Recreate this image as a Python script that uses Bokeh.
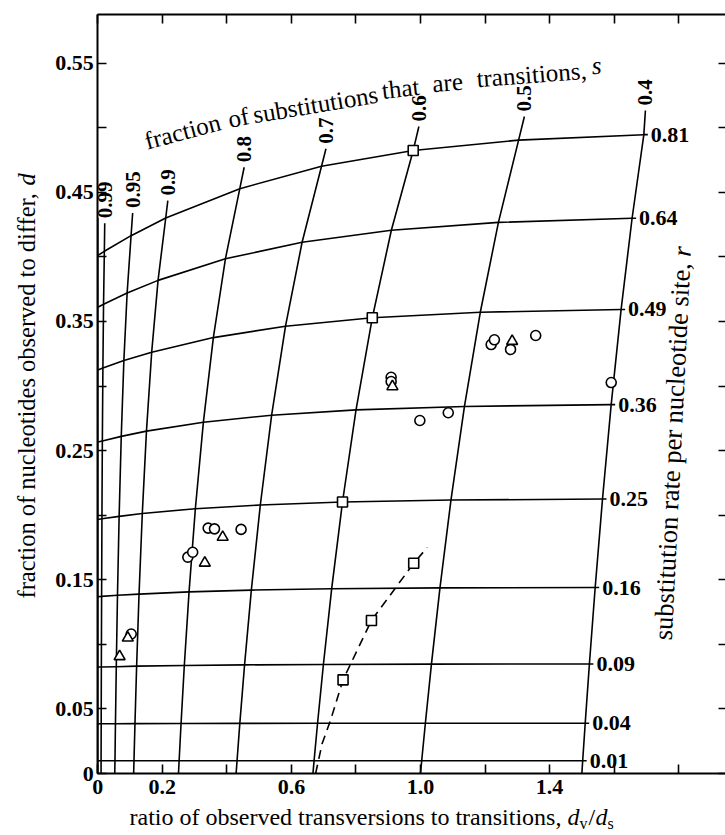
import math
from bokeh.plotting import figure
from bokeh.models import LinearAxis, FixedTicker, Label, Range1d, CustomJSTickFormatter
from bokeh.core.properties import value
from bokeh.embed import file_html
from bokeh.resources import INLINE

# ---------------- values ----------------
# substitution rate per nucleotide site, r (labels of the near-horizontal curves)
r_names = ["0.01", "0.04", "0.09", "0.16", "0.25", "0.36", "0.49", "0.64", "0.81"]
# fraction of substitutions that are transitions, s (labels of the steep curves)
s_names = ["1", "0.99", "0.95", "0.9", "0.8", "0.7", "0.6", "0.5", "0.4"]

# ratio dv/ds where each s curve leaves d = 0
s_start_ratio = [0.0, 0.0101, 0.0526, 0.1111, 0.2500, 0.4286, 0.6667, 1.0000, 1.5000]

# ratio dv/ds at the crossing with each r curve (one list per s curve)
ratio_s100 = [0.0, 0.0, 0.0, 0.0, 0.0, 0.0, 0.0, 0.0, 0.0]
ratio_s099 = [0.0102, 0.0105, 0.0110, 0.0118, 0.0128, 0.0141, 0.0158, 0.0178, 0.0203]
ratio_s095 = [0.0532, 0.0547, 0.0573, 0.0610, 0.0661, 0.0727, 0.0808, 0.0909, 0.1031]
ratio_s090 = [0.1121, 0.1152, 0.1203, 0.1278, 0.1379, 0.1508, 0.1670, 0.1867, 0.2105]
ratio_s080 = [0.2520, 0.2580, 0.2681, 0.2828, 0.3023, 0.3272, 0.3581, 0.3955, 0.4400]
ratio_s070 = [0.4315, 0.4401, 0.4548, 0.4758, 0.5036, 0.5387, 0.5817, 0.6331, 0.6933]
ratio_s060 = [0.6702, 0.6810, 0.6991, 0.7247, 0.7583, 0.8002, 0.8506, 0.9097, 0.9774]
ratio_s050 = [1.0037, 1.0151, 1.0339, 1.0603, 1.0944, 1.1362, 1.1853, 1.2415, 1.3040]
ratio_s040 = [1.5026, 1.5104, 1.5234, 1.5413, 1.5640, 1.5909, 1.6217, 1.6557, 1.6921]

# fraction observed to differ, d, at the same crossings
diff_s100 = [0.0099, 0.0384, 0.0824, 0.1369, 0.1967, 0.2566, 0.3124, 0.3610, 0.4011]
diff_s099 = [0.0099, 0.0385, 0.0824, 0.1371, 0.1972, 0.2575, 0.3139, 0.3633, 0.4043]
diff_s095 = [0.0099, 0.0385, 0.0827, 0.1380, 0.1991, 0.2610, 0.3197, 0.3720, 0.4164]
diff_s090 = [0.0099, 0.0386, 0.0831, 0.1389, 0.2013, 0.2651, 0.3262, 0.3818, 0.4301]
diff_s080 = [0.0099, 0.0387, 0.0836, 0.1406, 0.2050, 0.2720, 0.3375, 0.3985, 0.4528]
diff_s070 = [0.0099, 0.0388, 0.0841, 0.1420, 0.2079, 0.2774, 0.3463, 0.4113, 0.4701]
diff_s060 = [0.0099, 0.0389, 0.0844, 0.1430, 0.2102, 0.2815, 0.3528, 0.4206, 0.4824]
diff_s050 = [0.0099, 0.0389, 0.0847, 0.1437, 0.2117, 0.2842, 0.3571, 0.4267, 0.4904]
diff_s040 = [0.0099, 0.0389, 0.0848, 0.1440, 0.2125, 0.2856, 0.3593, 0.4299, 0.4946]

# upper ends of the s curves
s_top_ratio = [0.0, 0.0215, 0.108, 0.217, 0.4536, 0.707, 0.995, 1.322, 1.697]
s_top_diff = [0.430, 0.426, 0.434, 0.4436, 0.4694, 0.4837, 0.5009, 0.5087, 0.5133]

# observed points
circle_ratio = [0.1035, 0.279, 0.294, 0.342, 0.3616, 0.444, 0.909, 0.909, 0.998, 1.086,
                1.219, 1.229, 1.279, 1.357, 1.591]
circle_diff = [0.108, 0.1675, 0.1713, 0.190, 0.1894, 0.189, 0.3068, 0.3035, 0.2733, 0.2793,
               0.3321, 0.3358, 0.3283, 0.3391, 0.3027]
triangle_ratio = [0.0676, 0.093, 0.3316, 0.387, 0.913, 1.284]
triangle_diff = [0.0906, 0.105, 0.163, 0.183, 0.2996, 0.3347]

# dashed curve and its squares
dashed_ratio = [0.675, 0.695, 0.721, 0.760, 0.848, 0.979, 1.021]
dashed_diff = [0.0, 0.023, 0.041, 0.0725, 0.1185, 0.1628, 0.175]
dashed_square_idx = [3, 4, 5]
s060_square_idx = [4, 6, 8]   # squares on the s = 0.6 curve at r = 0.25, 0.49, 0.81

x_ticks = [0, 0.2, 0.4, 0.6, 0.8, 1.0, 1.2, 1.4, 1.6, 1.8]
x_tick_labels = ["0", "0.2", "", "0.6", "", "1.0", "", "1.4", "", ""]
y_ticks = [0, 0.05, 0.1, 0.15, 0.2, 0.25, 0.3, 0.35, 0.4, 0.45, 0.5, 0.55]
y_tick_labels = ["0", "0.05", "", "0.15", "", "0.25", "", "0.35", "", "0.45", "", "0.55"]

ratio_grid = [ratio_s100, ratio_s099, ratio_s095, ratio_s090, ratio_s080,
              ratio_s070, ratio_s060, ratio_s050, ratio_s040]
diff_grid = [diff_s100, diff_s099, diff_s095, diff_s090, diff_s080,
             diff_s070, diff_s060, diff_s050, diff_s040]

# ---------------- layout (page pixels of the reference) ----------------
W, H = 725, 835
X0_PX, X_SCALE = 97.3, 322.7     # page px of ratio 0, px per unit
Y0_PX, Y_SCALE = 773.0, 1291.6   # page px of d = 0, px per unit


def dx(px):
    return (px - X0_PX) / X_SCALE


def dy(py):
    return (Y0_PX - py) / Y_SCALE


X_END = dx(727)     # right border of the chart box (just outside the page)
Y_TOP = dy(14)      # top border of the chart box

SERIF = "Liberation Serif"

p = figure(width=W, height=H,
           x_range=Range1d(dx(0), dx(W)), y_range=Range1d(dy(H), dy(0)),
           min_border=0, output_backend="svg", toolbar_location=None)
p.outline_line_color = None
p.grid.visible = False
p.background_fill_color = "white"
p.border_fill_color = "white"


def style_axis(ax, ticks, labels, location, bounds, show_labels=True, show_line=True):
    ax.fixed_location = location
    ax.bounds = bounds
    ax.ticker = FixedTicker(ticks=ticks, minor_ticks=[])
    if show_labels:
        ax.formatter = CustomJSTickFormatter(args=dict(labels=labels),
                                             code="return labels[index];")
    else:
        ax.formatter = CustomJSTickFormatter(code="return '';")
    ax.major_tick_in = 9
    ax.major_tick_out = 0
    ax.minor_tick_in = 0
    ax.minor_tick_out = 0
    ax.major_tick_line_width = 1.6
    ax.major_tick_line_color = "black"
    ax.axis_line_width = 2
    ax.axis_line_color = "black" if show_line else None
    ax.major_label_text_font = SERIF
    ax.major_label_text_font_style = "bold"
    ax.major_label_text_color = "black"
    ax.major_label_text_font_size = "22px"


style_axis(p.xaxis[0], x_ticks, x_tick_labels, 0.0, (0.0, X_END))
p.xaxis[0].major_label_standoff = 6
style_axis(p.yaxis[0], y_ticks, y_tick_labels, 0.0, (0.0, Y_TOP))
p.yaxis[0].major_label_standoff = 4

top_axis = LinearAxis()
style_axis(top_axis, x_ticks, x_tick_labels, Y_TOP, (0.0, X_END), show_labels=False)
p.add_layout(top_axis, "above")

right_axis = LinearAxis()
style_axis(right_axis, y_ticks, y_tick_labels, X_END, (0.0, Y_TOP), show_labels=False)
p.add_layout(right_axis, "right")

LW = 1.6

# s curves
for i in range(len(s_names)):
    xs = [s_start_ratio[i]] + ratio_grid[i] + [s_top_ratio[i]]
    ys = [0.0] + diff_grid[i] + [s_top_diff[i]]
    p.line(xs, ys, line_color="black", line_width=LW)

# r curves (extend a little beyond the s = 0.4 curve)
for j in range(len(r_names)):
    xs = [ratio_grid[i][j] for i in range(len(s_names))]
    ys = [diff_grid[i][j] for i in range(len(s_names))]
    xs.append(xs[-1] + 4 / X_SCALE)
    ys.append(ys[-1])
    p.line(xs, ys, line_color="black", line_width=LW)

# dashed curve
p.line(dashed_ratio, dashed_diff, line_color="black", line_width=LW, line_dash="9 6")

# labels of the s curves
p.text(x=s_top_ratio[1:], y=s_top_diff[1:], text=s_names[1:], angle=math.pi / 2,
       y_offset=-5, text_align="left", text_baseline="middle",
       text_font=value(SERIF), text_font_style="bold", text_font_size="21px",
       text_color="black")

# labels of the r curves
p.text(x=ratio_s040, y=diff_s040, text=r_names, x_offset=7,
       text_align="left", text_baseline="middle",
       text_font=value(SERIF), text_font_style="bold", text_font_size="22px",
       text_color="black")

# squares
sq_x = [ratio_s060[k] for k in s060_square_idx] + [dashed_ratio[k] for k in dashed_square_idx]
sq_y = [diff_s060[k] for k in s060_square_idx] + [dashed_diff[k] for k in dashed_square_idx]
p.scatter(sq_x, sq_y, marker="square", size=10, fill_color="white",
          line_color="black", line_width=1.6)

p.scatter(circle_ratio, circle_diff, marker="circle", size=10, fill_color="white",
          line_color="black", line_width=1.6)
p.scatter(triangle_ratio, triangle_diff, marker="triangle", size=11, fill_color="white",
          line_color="black", line_width=1.6)

# curved heading "fraction of substitutions that are transitions, s"
arc_words = ["fraction", "of", "substitutions", "that", "are", "transitions,"]
arc_px = [182, 238, 315, 400, 447, 531]
arc_py = [131, 117, 104, 88, 82, 74]
arc_deg = [15, 12, 9.5, 6.5, 5, 4.5]
p.text(x=[dx(v) for v in arc_px], y=[dy(v) for v in arc_py], text=arc_words,
       angle=[math.radians(a) for a in arc_deg],
       text_align="center", text_baseline="alphabetic",
       text_font=value(SERIF), text_font_size="25px", text_color="black")
p.text(x=[dx(596)], y=[dy(65)], text=["s"], angle=math.radians(4),
       text_align="center", text_baseline="alphabetic",
       text_font=value(SERIF), text_font_style="italic", text_font_size="25px",
       text_color="black")


def add_label(text, px, py, size, style="normal", angle_deg=0.0):
    """px, py: start of the text on its baseline, in page pixels."""
    a = math.radians(angle_deg)
    mid = 0.33 * size           # distance from baseline to the middle of the text
    ax_ = px - mid * math.sin(a)
    ay_ = py - mid * math.cos(a)
    p.add_layout(Label(x=dx(ax_), y=dy(ay_), text=text, angle=a,
                       text_align="left", text_baseline="middle",
                       text_font=SERIF, text_font_size=f"{size}px", text_font_style=style,
                       text_color="black"))


# y axis title
add_label("fraction of nucleotides observed to differ,", 34, 598, 24.5, angle_deg=90)
add_label("d", 34, 185, 24.5, style="italic", angle_deg=90)

# right title (slightly tilted in the original)
RT_ANGLE = 87.2
RT_SIZE = 26.5
add_label("substitution rate per nucleotide site,", 671, 640, RT_SIZE, angle_deg=RT_ANGLE)
rt_run = 384.0   # along-text distance to the italic r
add_label("r", 671 + rt_run * math.cos(math.radians(RT_ANGLE)),
          640 - rt_run * math.sin(math.radians(RT_ANGLE)), RT_SIZE,
          style="italic", angle_deg=RT_ANGLE)

# x axis title
add_label("ratio of observed transversions to transitions,", 129, 824, 24)
add_label("d", 567, 824, 24, style="italic")
add_label("v", 579, 828, 16)
add_label("/", 588, 824, 24)
add_label("d", 595, 824, 24, style="italic")
add_label("s", 607, 828, 16)

open("out.html", "w").write(file_html(p, INLINE))
